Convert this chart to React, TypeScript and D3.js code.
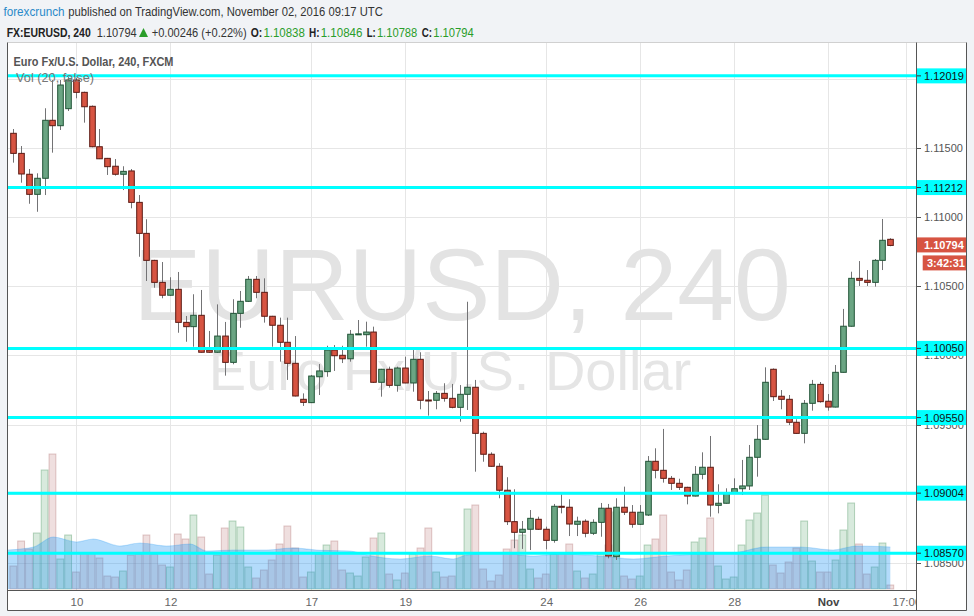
import * as d3 from "d3";

// EUR/USD 4h candles, Oct 7 - Nov 2 2016
const candleOpen = [
  1.11604, 1.11459, 1.11308, 1.11163, 1.11279, 1.11698, 1.11659, 1.11782, 1.11989, 1.119,
  1.11799, 1.11507, 1.11423, 1.11366, 1.11308, 1.11332, 1.11105, 1.10881, 1.10686, 1.10527,
  1.10434, 1.10477, 1.10238, 1.10207, 1.10289, 1.10038, 1.10022, 1.10139, 1.09949, 1.10303,
  1.1039, 1.10549, 1.10455, 1.10282, 1.10217, 1.10094, 1.09942, 1.09682, 1.09658, 1.09845,
  1.09882, 1.10038, 1.1, 1.09975, 1.10152, 1.10149, 1.10168, 1.09805, 1.09899, 1.09783,
  1.09908, 1.098, 1.09971, 1.09677, 1.09675, 1.09725, 1.09689, 1.09624, 1.09718, 1.09769,
  1.09436, 1.09285, 1.09198, 1.09025, 1.08798, 1.08721, 1.08743, 1.08815, 1.08743, 1.08663,
  1.08909, 1.08902, 1.08779, 1.08801, 1.08714, 1.08793, 1.08895, 1.08545, 1.08902, 1.08866,
  1.08779, 1.08846, 1.09234, 1.09169, 1.09111, 1.09075, 1.09046, 1.08983, 1.0914, 1.09191,
  1.08916, 1.08931, 1.09007, 1.09036, 1.09056, 1.09263, 1.09393, 1.09899, 1.09704, 1.09682,
  1.09516, 1.09436, 1.09653, 1.0979, 1.09668, 1.09626, 1.09877, 1.1021, 1.10556, 1.10542,
  1.10527, 1.10686, 1.10838,
];
const candleHigh = [
  1.11635, 1.11512, 1.11346, 1.11315, 1.11785, 1.11989, 1.11989, 1.12011, 1.12003, 1.11905,
  1.11805, 1.11635, 1.11426, 1.11418, 1.11366, 1.11346, 1.11158, 1.10983, 1.1069, 1.10674,
  1.10564, 1.10602, 1.10284, 1.10441, 1.10472, 1.10176, 1.10368, 1.10241, 1.10405, 1.10465,
  1.10573, 1.10573, 1.10556, 1.10285, 1.10272, 1.10272, 1.10139, 1.09725, 1.09858, 1.09937,
  1.10069, 1.10074, 1.10069, 1.10183, 1.10255, 1.10243, 1.10207, 1.09902, 1.09918, 1.09918,
  1.0999, 1.10038, 1.10022, 1.09742, 1.09742, 1.09798, 1.09793, 1.09785, 1.10387, 1.09822,
  1.09448, 1.09299, 1.0922, 1.09119, 1.09032, 1.08803, 1.08882, 1.08834, 1.08762, 1.08926,
  1.08996, 1.0896, 1.08834, 1.08815, 1.08815, 1.08933, 1.08926, 1.08967, 1.09051, 1.08918,
  1.08918, 1.09272, 1.09328, 1.09468, 1.09128, 1.09108, 1.0905, 1.092, 1.09299, 1.09417,
  1.09068, 1.09039, 1.09111, 1.09244, 1.09352, 1.09496, 1.09913, 1.09905, 1.09749, 1.09713,
  1.09538, 1.09677, 1.09822, 1.09807, 1.0972, 1.0993, 1.10335, 1.10604, 1.10681, 1.10616,
  1.10696, 1.10985, 1.10846,
];
const candleLow = [
  1.11392, 1.11247, 1.11095, 1.11037, 1.11158, 1.11464, 1.11628, 1.11765, 1.11857, 1.11681,
  1.11503, 1.11418, 1.11303, 1.11298, 1.11194, 1.11062, 1.10712, 1.10537, 1.10488, 1.10412,
  1.1043, 1.10163, 1.10098, 1.10062, 1.1002, 1.10018, 1.10018, 1.09853, 1.09935, 1.10199,
  1.10385, 1.10412, 1.10236, 1.10062, 1.09954, 1.09822, 1.09703, 1.09634, 1.09655, 1.09713,
  1.09845, 1.09887, 1.09944, 1.09954, 1.10148, 1.10062, 1.098, 1.09701, 1.09766, 1.09737,
  1.09798, 1.09737, 1.0961, 1.09564, 1.0961, 1.09665, 1.09617, 1.0952, 1.09605, 1.09159,
  1.09231, 1.09195, 1.08967, 1.08774, 1.08606, 1.08601, 1.08593, 1.08738, 1.08598, 1.08646,
  1.08858, 1.08694, 1.08694, 1.08685, 1.08702, 1.08689, 1.08533, 1.08521, 1.08846, 1.08754,
  1.08774, 1.08839, 1.09111, 1.0908, 1.09027, 1.09027, 1.08923, 1.0898, 1.09104, 1.08834,
  1.08858, 1.08928, 1.09005, 1.08991, 1.09027, 1.09123, 1.0939, 1.0967, 1.0961, 1.09496,
  1.09433, 1.09364, 1.096, 1.09658, 1.096, 1.09623, 1.09875, 1.10207, 1.10501, 1.10501,
  1.10496, 1.10616, 1.10788,
];
const candleClose = [
  1.11459, 1.1131, 1.11163, 1.11279, 1.11698, 1.11659, 1.11953, 1.11989, 1.119, 1.11796,
  1.11507, 1.1142, 1.11363, 1.11308, 1.11329, 1.11105, 1.10881, 1.10686, 1.10527, 1.10434,
  1.10477, 1.10238, 1.10207, 1.10289, 1.10022, 1.10022, 1.10139, 1.09949, 1.10303, 1.1039,
  1.10549, 1.10455, 1.10282, 1.10217, 1.10094, 1.09942, 1.09706, 1.0966, 1.0985, 1.09887,
  1.10038, 1.09997, 1.09975, 1.10152, 1.10155, 1.10168, 1.09805, 1.09899, 1.09783, 1.09908,
  1.098, 1.09971, 1.09675, 1.09673, 1.09725, 1.09689, 1.09624, 1.09718, 1.09769, 1.09436,
  1.09285, 1.09198, 1.09025, 1.08798, 1.08721, 1.08743, 1.08822, 1.08743, 1.08663, 1.08909,
  1.08902, 1.08781, 1.08801, 1.08714, 1.08793, 1.08895, 1.0855, 1.08902, 1.08866, 1.08779,
  1.08866, 1.09234, 1.09169, 1.09111, 1.09075, 1.09046, 1.08983, 1.0914, 1.09191, 1.08918,
  1.08931, 1.09007, 1.09036, 1.09056, 1.09263, 1.09393, 1.09805, 1.09701, 1.09682, 1.09516,
  1.09436, 1.09653, 1.0979, 1.09665, 1.09626, 1.09877, 1.1021, 1.10556, 1.10542, 1.10527,
  1.10686, 1.10831, 1.10794,
];
const volume = [
  23, 48, 40, 56, 119, 135, 30, 54, 17, 36, 36, 31, 13, 12, 18, 34, 35, 54, 35, 24,
  22, 55, 50, 74, 52, 15, 34, 61, 68, 62, 22, 11, 19, 29, 45, 63, 41, 12, 17, 35,
  44, 48, 19, 16, 13, 32, 51, 56, 15, 9, 16, 35, 41, 61, 17, 12, 13, 35, 80, 84,
  20, 8, 14, 40, 49, 54, 20, 11, 15, 35, 36, 45, 18, 11, 15, 35, 44, 77, 13, 10,
  13, 44, 50, 74, 17, 9, 19, 47, 51, 71, 23, 10, 12, 44, 69, 76, 94, 24, 16, 27,
  41, 68, 28, 17, 17, 29, 59, 86, 45, 15, 22, 46, 4,
];
// Vol MA(20), sampled along the curve
const maIndex = [-0.7, 2.6, 5.1, 8.1, 10.2, 13.6, 16.2, 19.6, 22.6, 24.7, 28.1, 32.3, 35.7, 38.7, 43, 45.1, 49.4, 53.2, 56.2, 57.9, 62.1, 66.4, 69.8, 74.9, 79.2, 83.4, 87.7, 91.9, 96.2, 100.5, 104.7, 107.7, 112];
const maValue = [39, 42, 52, 47, 50, 43, 46, 43, 45, 38, 39, 39, 41, 39, 38, 34, 30, 33, 30, 34, 36, 33, 35, 33, 30, 33, 35, 36, 42, 42, 39, 43, 42];

const tickIndex = [8, 20, 38, 50, 68, 80, 92, 104, 114];
const tickLabel = ["10", "12", "17", "19", "24", "26", "28", "Nov", "17:00"];
const priceTicks = [1.085, 1.09, 1.095, 1.1, 1.105, 1.11, 1.115, 1.12];
const levels = [1.12019, 1.11212, 1.1005, 1.0955, 1.09004, 1.0857];
const lastPrice = 1.10794;

// header quote: label, value, x of label, widths
const quoteLabel = ["O:", "H:", "L:", "C:"];
const quoteValue = ["1.10838", "1.10846", "1.10788", "1.10794"];
const quoteX = [250.7, 309, 366.7, 421.7];
const quoteLabelW = [11.5, 10.5, 9, 10.3];
const quoteValueW = [41.5, 41.8, 40.4, 40.5];

const FONT = "'Liberation Sans', Arial, sans-serif";
const UP = "#6ba583", UP_EDGE = "#225437";
const DOWN = "#d75442", DOWN_EDGE = "#5b1a13";
const QUOTE_GREEN = "#2a9d2a";

const L = 8, R = 916, T = 43, B = 590;

export default function App() {
  const x = d3.scaleLinear().domain([0, 112]).range([13.3, 890.3]);
  const y = d3.scaleLinear().domain([1.085, 1.12]).range([562.9, 78.5]);
  const yVol = d3.scaleLinear().domain([0, 135]).range([589, 454]);
  const step = x(1) - x(0);
  const bodyW = 5.6;
  const fmt = d3.format(".5f");

  const candles = candleOpen.map((o, i) => ({
    i, o, h: candleHigh[i], l: candleLow[i], c: candleClose[i], v: volume[i],
  }));

  // a tick label is hidden when a level label covers it completely
  const hidden = (p: number) => levels.some((lv) => Math.abs(y(lv) - y(p)) < 4);

  const maArea = d3
    .area<number>()
    .x((_, k) => x(maIndex[k]))
    .y0(yVol(0))
    .y1((d) => yVol(d))
    .curve(d3.curveMonotoneX);
  const maLine = d3
    .line<number>()
    .x((_, k) => x(maIndex[k]))
    .y((d) => yVol(d))
    .curve(d3.curveMonotoneX);

  const hy = 37;

  return (
    <div style={{ position: "absolute", left: 0, top: 0 }}>
      <svg width={974} height={616} style={{ display: "block", fontFamily: FONT }}>
        <defs>
          <clipPath id="plot">
            <rect x={L} y={T} width={R - L} height={B - T} />
          </clipPath>
          <clipPath id="timeaxis">
            <rect x={L} y={B} width={R - L} height={20} />
          </clipPath>
        </defs>
        <rect width={974} height={616} fill="#f1f3f6" />

        {/* header */}
        <text y={16} fontSize={13}>
          <tspan x={3.5} fill="#2a8ac9" textLength={61} lengthAdjust="spacingAndGlyphs">forexcrunch</tspan>
          <tspan x={68.3} fill="#333" textLength={314.5} lengthAdjust="spacingAndGlyphs">
            published on TradingView.com, November 02, 2016 09:17 UTC
          </tspan>
        </text>
        <text y={hy} fontSize={13}>
          <tspan x={6.7} fill="#222" fontWeight="bold" textLength={84} lengthAdjust="spacingAndGlyphs">FX:EURUSD, 240</tspan>
          <tspan x={96.7} fill="#333" textLength={40} lengthAdjust="spacingAndGlyphs">1.10794</tspan>
          <tspan x={151.7} fill="#333" textLength={95} lengthAdjust="spacingAndGlyphs">+0.00246 (+0.22%)</tspan>
          {quoteLabel.map((lab, k) => [
            <tspan key={"l" + k} x={quoteX[k]} fill="#222" fontWeight="bold" textLength={quoteLabelW[k]} lengthAdjust="spacingAndGlyphs">{lab}</tspan>,
            <tspan key={"v" + k} x={quoteX[k] + quoteLabelW[k] + 1.2} fill={QUOTE_GREEN} textLength={quoteValueW[k]} lengthAdjust="spacingAndGlyphs">{quoteValue[k]}</tspan>,
          ])}
        </text>
        <path d="M139,37 L148,37 L143.5,28 Z" fill={QUOTE_GREEN} />

        {/* chart frame */}
        <rect x={7.5} y={42.5} width={959} height={568} fill="#fff" />

        {/* grid */}
        <g stroke="#e6e6e6" strokeWidth={1}>
          {priceTicks.map((p) => (
            <line key={p} x1={L} x2={R} y1={Math.round(y(p)) + 0.5} y2={Math.round(y(p)) + 0.5} />
          ))}
          {tickIndex.map((t) => (
            <line key={t} x1={Math.round(x(t)) + 0.5} x2={Math.round(x(t)) + 0.5} y1={T} y2={B} />
          ))}
        </g>

        <g clipPath="url(#plot)">
          {/* watermark */}
          <text x={462} y={320} textAnchor="middle" fontSize={102} fill="#e3e3e3">EURUSD, 240</text>
          <text x={450} y={390} textAnchor="middle" fontSize={56} fill="#e5e5e5">Euro Fx/U.S. Dollar</text>

          {/* volume bars */}
          {candles.map((d) => {
            const up = d.c >= d.o;
            return (
              <rect
                key={"v" + d.i}
                x={x(d.i) - step / 2 + 0.5}
                y={yVol(d.v)}
                width={step - 1}
                height={yVol(0) - yVol(d.v)}
                fill={up ? "rgba(100,170,120,0.25)" : "rgba(180,110,110,0.22)"}
                stroke={up ? "rgba(80,150,100,0.4)" : "rgba(170,100,100,0.35)"}
                strokeWidth={1}
              />
            );
          })}

          {/* volume MA area */}
          <path d={maArea(maValue) ?? ""} fill="rgba(33,150,243,0.34)" />
          <path d={maLine(maValue) ?? ""} fill="none" stroke="rgba(33,150,243,0.25)" strokeWidth={1.2} />

          {/* candles */}
          {candles.map((d) => {
            const up = d.c >= d.o;
            const top = y(Math.max(d.o, d.c));
            const bot = y(Math.min(d.o, d.c));
            const cx = Math.round(x(d.i)) + 0.5;
            return (
              <g key={"c" + d.i}>
                <line x1={cx} x2={cx} y1={y(d.h)} y2={y(d.l)} stroke="#737375" strokeWidth={1} />
                <rect
                  x={cx - bodyW / 2}
                  y={top}
                  width={bodyW}
                  height={Math.max(bot - top, 1)}
                  fill={up ? UP : DOWN}
                  stroke={up ? UP_EDGE : DOWN_EDGE}
                  strokeWidth={1}
                />
              </g>
            );
          })}

          {/* horizontal levels */}
          {levels.map((p) => (
            <line key={p} x1={L} x2={R} y1={y(p)} y2={y(p)} stroke="#00ffff" strokeWidth={3} />
          ))}
        </g>

        {/* legend */}
        <text x={13.5} y={66} fontSize={13} fontWeight="bold" fill="#555" textLength={160} lengthAdjust="spacingAndGlyphs">
          Euro Fx/U.S. Dollar, 240, FXCM
        </text>
        <text x={16} y={82} fontSize={13} fill="#777" textLength={78} lengthAdjust="spacingAndGlyphs">Vol (20, false)</text>

        {/* price axis */}
        <g fontSize={11} fill="#555">
          {priceTicks.map((p) => (
            <g key={p}>
              <line x1={R} x2={921} y1={Math.round(y(p)) + 0.5} y2={Math.round(y(p)) + 0.5} stroke="#555" />
              {!hidden(p) && <text x={924} y={y(p) + 4}>{fmt(p)}</text>}
            </g>
          ))}
        </g>
        {levels.map((p) => (
          <g key={"lv" + p}>
            <rect x={R} y={y(p) - 7.5} width={51} height={15} fill="#00ffff" />
            <line x1={R} x2={921} y1={y(p)} y2={y(p)} stroke="#333" />
            <text x={924} y={y(p) + 4} fontSize={11} fill="#111">{fmt(p)}</text>
          </g>
        ))}
        <rect x={R} y={y(lastPrice) - 8} width={51} height={15} fill={DOWN} />
        <text x={924} y={y(lastPrice) + 4} fontSize={11} fontWeight="bold" fill="#fff">{fmt(lastPrice)}</text>
        <rect x={922.7} y={y(lastPrice) + 10} width={44.3} height={15} fill={DOWN} />
        <text x={927} y={y(lastPrice) + 22} fontSize={11} fontWeight="bold" fill="#fff">3:42:31</text>

        {/* time axis */}
        <g clipPath="url(#timeaxis)">
          {tickIndex.map((t, k) => (
            <text
              key={t}
              x={x(t) + 1}
              y={606}
              textAnchor="middle"
              fontSize={11.5}
              fill={tickLabel[k] === "Nov" ? "#444" : "#666"}
              fontWeight={tickLabel[k] === "Nov" ? "bold" : "normal"}
            >
              {tickLabel[k]}
            </text>
          ))}
        </g>

        {/* frame lines */}
        <line x1={7.5} x2={966.5} y1={42.5} y2={42.5} stroke="#d0d0d0" />
        <line x1={7.5} x2={7.5} y1={42.5} y2={610.5} stroke="#555" />
        <line x1={966.5} x2={966.5} y1={42.5} y2={610.5} stroke="#555" />
        <line x1={7.5} x2={966.5} y1={610.5} y2={610.5} stroke="#555" />
        <line x1={R + 0.5} x2={R + 0.5} y1={42.5} y2={610.5} stroke="#555" />
        <line x1={7.5} x2={R} y1={B + 0.5} y2={B + 0.5} stroke="#555" />
      </svg>
    </div>
  );
}
